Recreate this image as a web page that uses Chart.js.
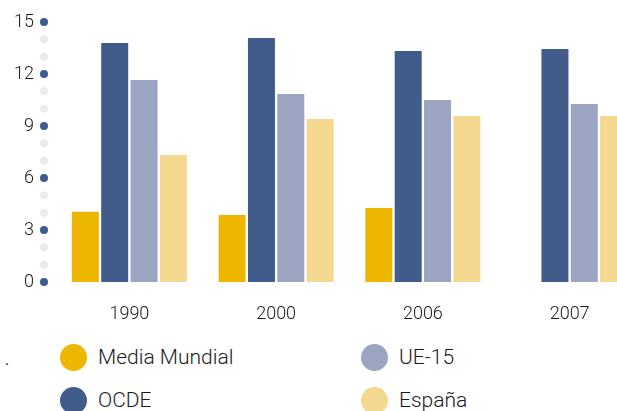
<!DOCTYPE html>
<html>
<head>
<meta charset="utf-8">
<script src="https://cdn.jsdelivr.net/npm/chart.js@4"></script>
<style>
  html, body { margin: 0; padding: 0; background: #fff; }
  #frame { position: relative; width: 617px; height: 411px; overflow: hidden; font-family: Roboto, "Liberation Sans", sans-serif; font-weight: 300; }
  #wrap { position: absolute; left: 0; top: 0; width: 660px; height: 330px; }
  .lg { position: absolute; display: flex; align-items: center; font-size: 21px; color: #1a1a1a; white-space: nowrap; }
  .lg i { display: inline-block; width: 27px; height: 27px; border-radius: 50%; margin-right: 11px; }
  #dot { position: absolute; left: 5px; top: 350px; font-size: 16px; color: #222; font-weight: 400; }
</style>
</head>
<body>
<div id="frame">
  <div id="wrap"><canvas id="c"></canvas></div>
  <span id="dot">.</span>
  <div id="legend"></div>
</div>
<script>
const categories = ['1990', '2000', '2006', '2007'];
const seriesNames = ['Media Mundial', 'OCDE', 'UE-15', 'España'];
const mediaMundial = [4.05, 3.87, 4.27, null];
const ocde = [13.79, 14.08, 13.33, 13.44];
const ue15 = [11.65, 10.85, 10.5, 10.27];
const espana = [7.33, 9.4, 9.58, 9.58];
const yTicks = [0, 3, 6, 9, 12, 15];

const colors = ['#EDB600', '#415C8A', '#9BA5C1', '#F5D88F'];
const values = [mediaMundial, ocde, ue15, espana];

const dotsPlugin = {
  id: 'dots',
  afterDraw(chart) {
    const y = chart.scales.y;
    const ctx = chart.ctx;
    const x = y.right - 12;
    ctx.save();
    for (let v = y.min; v <= y.max; v++) {
      ctx.beginPath();
      ctx.arc(x, y.getPixelForValue(v), 4, 0, Math.PI * 2);
      ctx.fillStyle = yTicks.includes(v) ? '#415C8A' : '#EBEBEB';
      ctx.fill();
    }
    ctx.restore();
  }
};

const tickFont = { family: 'Roboto', size: 18, weight: '300' };

new Chart(document.getElementById('c'), {
  type: 'bar',
  data: {
    labels: categories,
    datasets: seriesNames.map((n, i) => ({
      label: n,
      data: values[i],
      backgroundColor: colors[i],
      borderWidth: 0,
      categoryPercentage: 0.8,
      barPercentage: 0.92
    }))
  },
  options: {
    responsive: true,
    maintainAspectRatio: false,
    animation: false,
    events: [],
    layout: { padding: { top: 22, right: 17, left: 0, bottom: 0 } },
    plugins: { legend: { display: false }, tooltip: { enabled: false } },
    scales: {
      x: {
        grid: { display: false, drawTicks: false },
        border: { display: false },
        ticks: { padding: 22, color: '#1a1a1a', font: tickFont },
        afterFit(s) { s.height = 48; s.paddingLeft = 0; s.paddingRight = 0; }
      },
      y: {
        min: 0, max: 15,
        grid: { display: false, drawTicks: false },
        border: { display: false },
        afterBuildTicks(s) { s.ticks = yTicks.map(v => ({ value: v })); },
        ticks: { padding: 22, color: '#1a1a1a', font: tickFont },
        afterFit(s) { s.width = 56; s.paddingTop = 0; s.paddingBottom = 0; }
      }
    }
  },
  plugins: [dotsPlugin]
});

const legendItems = [
  { i: 0, x: 60, y: 357 },
  { i: 2, x: 361, y: 357 },
  { i: 1, x: 60, y: 400 },
  { i: 3, x: 361, y: 400 }
];
const lg = document.getElementById('legend');
legendItems.forEach(it => {
  const d = document.createElement('div');
  d.className = 'lg';
  d.style.left = it.x + 'px';
  d.style.top = (it.y - 14) + 'px';
  d.style.height = '28px';
  const c = document.createElement('i');
  c.style.background = colors[it.i];
  d.appendChild(c);
  d.appendChild(document.createTextNode(seriesNames[it.i]));
  lg.appendChild(d);
});
</script>
</body>
</html>
